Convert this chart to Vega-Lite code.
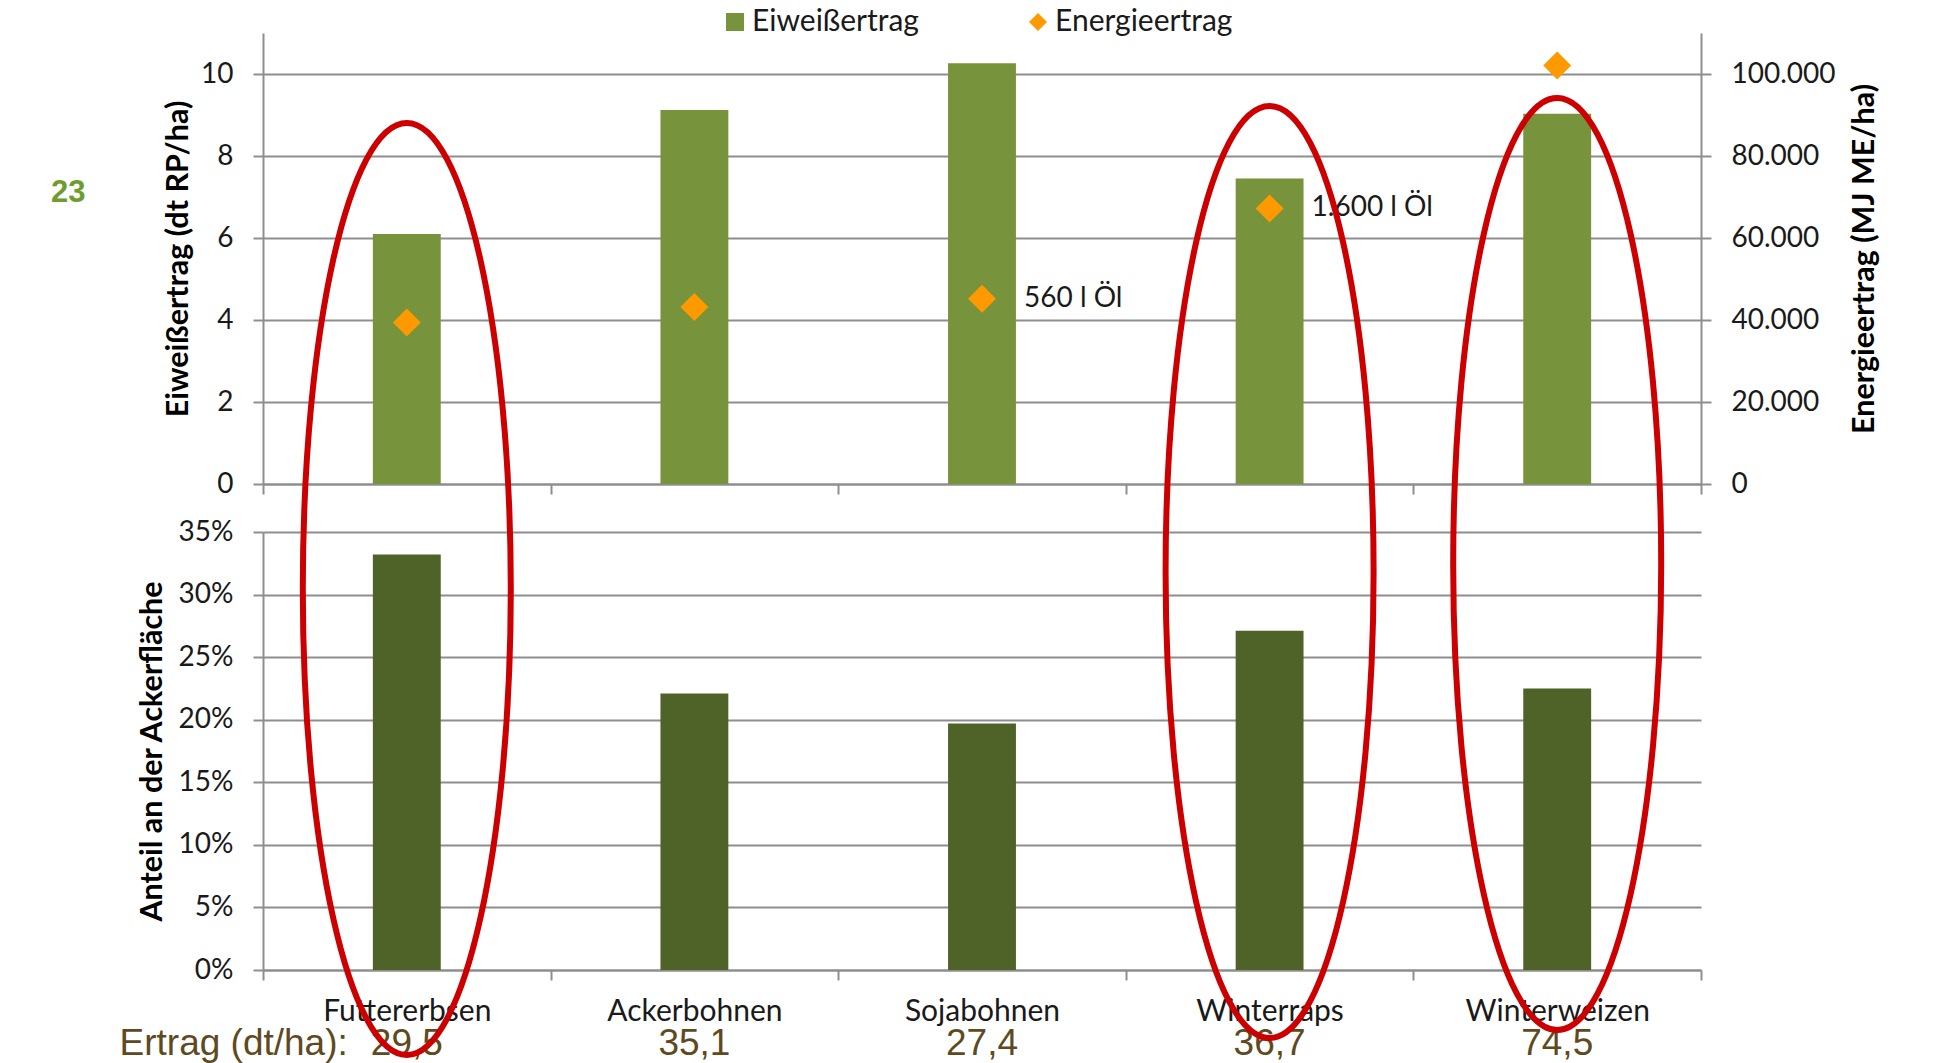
{
  "$schema": "https://vega.github.io/schema/vega-lite/v6.json",
  "autosize": {"type": "none"},
  "padding": {"left": 263, "top": 33, "right": 1673, "bottom": 1030},
  "background": "white",
  "title": {
    "text": "23",
    "orient": "top",
    "anchor": "start",
    "frame": "group",
    "offset": 0,
    "dx": -212,
    "dy": 202,
    "font": "Liberation Sans",
    "fontSize": 31,
    "fontWeight": "bold",
    "color": "#6E9C2E"
  },
  "config": {
    "locale": {
      "number": {"decimal": ",", "thousands": ".", "grouping": [3], "currency": ["", " €"]}
    },
    "font": "Lato",
    "view": {"stroke": null},
    "axis": {
      "domainColor": "#8E8E8E",
      "domainWidth": 2,
      "tickColor": "#8E8E8E",
      "tickWidth": 2,
      "tickSize": 10,
      "gridColor": "#8E8E8E",
      "gridWidth": 2,
      "labelFont": "Lato",
      "labelFontSize": 28,
      "labelColor": "#1A1A1A",
      "labelPadding": 20,
      "titleFont": "Lato",
      "titleFontSize": 30.5,
      "titleFontWeight": "bold",
      "titleColor": "#000000",
      "titlePadding": 11
    }
  },
  "datasets": {
    "kulturen": [
      {"Kultur": "Futtererbsen", "Eiweiss": 6.1, "Energie": 39400, "Anteil": 0.332, "Ertrag": 29.5},
      {"Kultur": "Ackerbohnen", "Eiweiss": 9.12, "Energie": 43200, "Anteil": 0.221, "Ertrag": 35.1},
      {"Kultur": "Sojabohnen", "Eiweiss": 10.26, "Energie": 45200, "Oel": "560 l Öl", "Anteil": 0.197, "Ertrag": 27.4},
      {"Kultur": "Winterraps", "Eiweiss": 7.45, "Energie": 67200, "Oel": "1.600 l Öl", "Anteil": 0.271, "Ertrag": 36.7},
      {"Kultur": "Winterweizen", "Eiweiss": 9.03, "Energie": 102100, "Anteil": 0.225, "Ertrag": 74.5}
    ],
    "markiert": [
      {"Kultur": "Futtererbsen", "Mitte": 0.3045},
      {"Kultur": "Winterraps", "Mitte": 0.318},
      {"Kultur": "Winterweizen", "Mitte": 0.3244}
    ]
  },
  "bounds": "flush",
  "spacing": 48,
  "vconcat": [
    {
      "width": 1438,
      "height": 451,
      "data": {"name": "kulturen"},
      "encoding": {
        "x": {
          "field": "Kultur",
          "type": "nominal",
          "scale": {
            "domain": ["Futtererbsen", "Ackerbohnen", "Sojabohnen", "Winterraps", "Winterweizen"],
            "paddingInner": 0,
            "paddingOuter": 0
          },
          "axis": {"labels": false, "title": null, "tickBand": "extent", "grid": false}
        }
      },
      "layer": [
        {
          "mark": {"type": "bar", "width": {"band": 0.236}},
          "encoding": {
            "y": {
              "field": "Eiweiss",
              "type": "quantitative",
              "scale": {"domain": [0, 11], "nice": false},
              "axis": {"values": [0, 2, 4, 6, 8, 10], "title": "Eiweißertrag (dt RP/ha)", "grid": true, "titlePadding": 7}
            },
            "color": {
              "datum": "Eiweißertrag",
              "type": "nominal",
              "scale": {"domain": ["Eiweißertrag", "Energieertrag"], "range": ["#77933C", "#FF9900"]},
              "legend": {
                "orient": "none",
                "legendX": 457,
                "legendY": -26,
                "direction": "horizontal",
                "title": null,
                "labelFont": "Lato",
                "labelFontSize": 30,
                "labelColor": "#1A1A1A",
                "labelLimit": 400,
                "labelOffset": 2,
                "symbolSize": 324,
                "symbolStrokeWidth": 0,
                "columnPadding": 104,
                "encode": {
                  "symbols": {
                    "update": {
                      "shape": {"signal": "datum.value === 'Energieertrag' ? 'diamond' : 'square'"}
                    }
                  }
                }
              }
            }
          }
        },
        {
          "layer": [
            {
              "mark": {"type": "point", "shape": "diamond", "filled": true, "size": 784, "opacity": 1},
              "encoding": {
                "y": {
                  "field": "Energie",
                  "type": "quantitative",
                  "scale": {"domain": [0, 110000], "nice": false},
                  "axis": {
                    "orient": "right",
                    "values": [0, 20000, 40000, 60000, 80000, 100000],
                    "format": ",.0f",
                    "title": "Energieertrag (MJ ME/ha)",
                    "titleAngle": -90,
                    "titleBaseline": "top",
                    "titlePadding": 14,
                    "grid": false
                  }
                },
                "color": {"datum": "Energieertrag", "type": "nominal"}
              }
            },
            {
              "transform": [{"filter": "isValid(datum.Oel)"}],
              "mark": {"type": "text", "align": "left", "baseline": "middle", "dx": 42, "fontSize": 28, "color": "#1A1A1A"},
              "encoding": {
                "y": {"field": "Energie", "type": "quantitative"},
                "text": {"field": "Oel"}
              }
            }
          ]
        }
      ],
      "resolve": {"scale": {"y": "independent"}}
    },
    {
      "width": 1438,
      "height": 438,
      "encoding": {
        "x": {
          "field": "Kultur",
          "type": "nominal",
          "scale": {
            "domain": ["Futtererbsen", "Ackerbohnen", "Sojabohnen", "Winterraps", "Winterweizen"],
            "paddingInner": 0,
            "paddingOuter": 0
          },
          "axis": {"title": null, "tickBand": "extent", "labelAngle": 0, "labelFontSize": 30, "labelPadding": 16, "labelLimit": 400, "grid": false}
        }
      },
      "layer": [
        {
          "data": {"name": "kulturen"},
          "mark": {"type": "bar", "width": {"band": 0.236}, "color": "#4F6228"},
          "encoding": {
            "y": {
              "field": "Anteil",
              "type": "quantitative",
              "scale": {"domain": [0, 0.35], "nice": false},
              "axis": {
                "values": [0, 0.05, 0.1, 0.15, 0.2, 0.25, 0.3, 0.35],
                "format": ".0%",
                "title": "Anteil an der Ackerfläche",
                "grid": true
              }
            }
          }
        },
        {
          "data": {"name": "kulturen"},
          "mark": {"type": "text", "font": "Liberation Sans", "fontSize": 37, "color": "#5E4A1E", "baseline": "alphabetic"},
          "encoding": {
            "y": {"datum": -0.0682},
            "text": {"field": "Ertrag", "type": "quantitative", "format": ".1f"}
          }
        },
        {
          "data": {"values": [{"Kultur": "Futtererbsen", "Beschriftung": "Ertrag (dt/ha):"}]},
          "mark": {"type": "text", "font": "Liberation Sans", "fontSize": 37, "color": "#5E4A1E", "baseline": "alphabetic", "align": "right", "dx": -59},
          "encoding": {
            "y": {"datum": -0.0682},
            "text": {"field": "Beschriftung"}
          }
        },
        {
          "data": {"name": "markiert"},
          "mark": {
            "type": "point",
            "shape": "M -104 0 C -104 -257.4 -57.4 -466 0 -466 C 57.4 -466 104 -257.4 104 0 C 104 257.4 57.4 466 0 466 C -57.4 466 -104 257.4 -104 0 Z",
            "size": 4,
            "filled": false,
            "color": "#CC0000",
            "strokeWidth": 6,
            "opacity": 1
          },
          "encoding": {
            "y": {"field": "Mitte", "type": "quantitative"}
          }
        }
      ]
    }
  ]
}
